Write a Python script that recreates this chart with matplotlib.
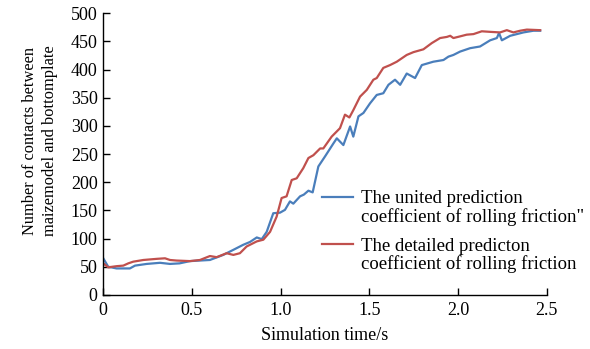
import matplotlib
matplotlib.use("Agg")
import matplotlib.pyplot as plt
from matplotlib.lines import Line2D

plt.rcParams['font.family'] = ['Liberation Serif', 'DejaVu Serif']

# united prediction (blue)
t_united = [0.0, 0.028, 0.075, 0.15, 0.179, 0.245, 0.32, 0.376, 0.43, 0.489, 0.601,
            0.676, 0.733, 0.789, 0.827, 0.865, 0.893, 0.921, 0.958, 0.996, 1.024,
            1.052, 1.071, 1.109, 1.13, 1.156, 1.18, 1.212, 1.25, 1.297, 1.316,
            1.353, 1.391, 1.409, 1.438, 1.466, 1.503, 1.541, 1.578, 1.607, 1.644,
            1.673, 1.71, 1.757, 1.795, 1.86, 1.917, 1.945, 1.973, 2.011, 2.067,
            2.123, 2.18, 2.218, 2.23, 2.246, 2.293, 2.368, 2.424, 2.462]
n_united = [65, 50, 47, 47, 52, 55, 57, 55, 56, 60, 62,
            71, 80, 89, 94, 102, 99, 112, 145, 146, 151,
            166, 162, 175, 178, 185, 182, 228, 246, 269, 278,
            266, 299, 281, 317, 323, 340, 355, 358, 373, 382,
            373, 393, 385, 408, 414, 417, 423, 426, 432, 438,
            441, 452, 456, 465, 452, 460, 466, 469, 469]

# detailed prediction (red)
t_detailed = [0.0, 0.028, 0.075, 0.113, 0.141, 0.169, 0.226, 0.301, 0.348, 0.376,
              0.413, 0.489, 0.545, 0.601, 0.639, 0.695, 0.733, 0.77, 0.808, 0.865,
              0.902, 0.94, 0.977, 1.005, 1.033, 1.062, 1.09, 1.127, 1.156, 1.184,
              1.222, 1.24, 1.287, 1.334, 1.362, 1.387, 1.409, 1.447, 1.485, 1.522,
              1.541, 1.578, 1.616, 1.654, 1.71, 1.748, 1.804, 1.851, 1.898, 1.936,
              1.955, 1.973, 2.011, 2.048, 2.086, 2.133, 2.18, 2.236, 2.274, 2.311,
              2.349, 2.387, 2.462]
n_detailed = [56, 49, 51, 52, 56, 59, 62, 64, 65, 62,
              61, 60, 62, 69, 67, 74, 71, 74, 86, 95,
              98, 112, 139, 172, 175, 204, 207, 225, 243, 248,
              260, 260, 281, 296, 320, 315, 328, 352, 364, 382,
              385, 403, 408, 414, 426, 431, 436, 447, 456, 458,
              460, 456, 459, 462, 463, 468, 467, 466, 470, 466,
              469, 471, 470]

x_ticks = [0, 0.5, 1.0, 1.5, 2.0, 2.5]
x_labels = ["0", "0.5", "1.0", "1.5", "2.0", "2.5"]
y_ticks = list(range(0, 501, 50))

united_label = ["The united prediction", 'coefficient of rolling friction"']
detailed_label = ["The detailed predicton", "coefficient of rolling friction"]

BLUE = '#4a7ebb'
RED = '#c0504d'

fig = plt.figure(figsize=(5.9, 3.49), dpi=100)
ax = fig.add_axes([0.175, 0.155, 0.752, 0.807])

l1, = ax.plot(t_united, n_united, color=BLUE, lw=1.6)
l2, = ax.plot(t_detailed, n_detailed, color=RED, lw=1.6)

ax.set_xlim(0, 2.5)
ax.set_ylim(0, 500)
ax.set_xticks(x_ticks)
ax.set_xticklabels(x_labels)
ax.set_yticks(y_ticks)
ax.tick_params(direction='in', length=5, width=1, labelsize=13, pad=4)
ax.tick_params(axis='x', pad=5)
for s in ['top', 'right']:
    ax.spines[s].set_visible(False)
for s in ['left', 'bottom']:
    ax.spines[s].set_linewidth(1.0)

ax.set_xlabel("Simulation time/s", fontsize=13, labelpad=6)
ax.set_ylabel("Number of contacts between\nmaizemodel and bottomplate",
              fontsize=11.8, linespacing=1.35)
ax.yaxis.set_label_coords(-0.102, 0.547)

# legend: line sits next to the first line of each two-line label
blank = Line2D([], [], color='none')
leg_kw = dict(loc='upper left', frameon=False, fontsize=13.5, handlelength=1.65,
              handletextpad=0.45, labelspacing=0.05, borderpad=0, borderaxespad=0)
leg1 = ax.legend([l1, blank], united_label, bbox_to_anchor=(0.493, 0.372), **leg_kw)
ax.add_artist(leg1)
ax.legend([l2, blank], detailed_label, bbox_to_anchor=(0.493, 0.204), **leg_kw)

fig.savefig("out.png", dpi=100)
